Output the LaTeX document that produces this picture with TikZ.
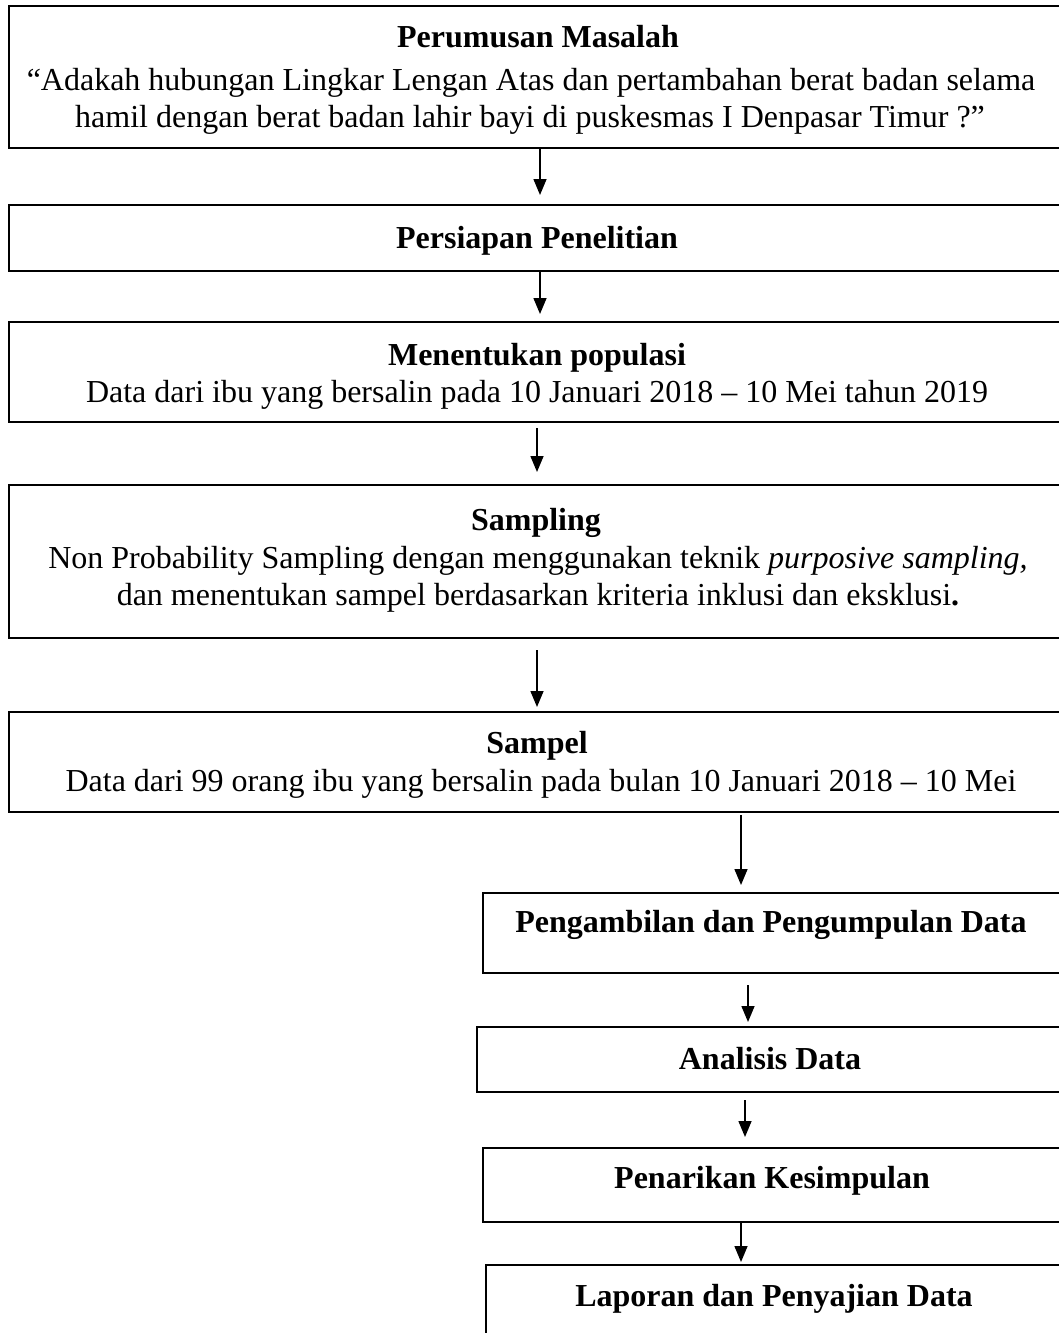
\documentclass[tikz,border=0pt]{standalone}
\usepackage{fontspec}
\setmainfont{Liberation Serif}
\usetikzlibrary{arrows.meta,calc}
\begin{document}
\begin{tikzpicture}[x=1pt,y=-1pt,
  box/.style={draw,line width=1.6pt,inner sep=0pt,outer sep=0pt,anchor=north west},
  txt/.style={anchor=base,inner sep=0pt,font=\fontsize{32}{38}\selectfont},
  ttl/.style={txt,font=\fontsize{32}{38}\selectfont\bfseries},
  arr/.style={line width=1.5pt,-{Triangle[length=16pt,width=13pt]}}]
\useasboundingbox (0,0) rectangle (1059,1333);
\clip (0,0) rectangle (1059,1333);
% boxes
\node[box,minimum width=1057pt,minimum height=142pt] (b1) at (9,6) {};
\node[box,minimum width=1057pt,minimum height=66pt] (b2) at (9,205) {};
\node[box,minimum width=1057pt,minimum height=100pt] (b3) at (9,322) {};
\node[box,minimum width=1057pt,minimum height=153pt] (b4) at (9,485) {};
\node[box,minimum width=1057pt,minimum height=100pt] (b5) at (9,712) {};
\node[box,minimum width=583pt,minimum height=80pt] (b6) at (483,893) {};
\node[box,minimum width=589pt,minimum height=65pt] (b7) at (477,1027) {};
\node[box,minimum width=583pt,minimum height=74pt] (b8) at (483,1148) {};
\node[box,minimum width=580pt,minimum height=120pt] (b9) at (486,1265) {};
% texts
\node[ttl] (t1a) at (538,47) {Perumusan Masalah};
\node[txt] (t1b) at (531,90) {“Adakah hubungan Lingkar Lengan Atas dan pertambahan berat badan selama};
\node[txt] (t1c) at (530,127) {hamil dengan berat badan lahir bayi di puskesmas I Denpasar Timur ?”};
\node[ttl] (t2) at (537,248) {Persiapan Penelitian};
\node[ttl] (t3a) at (537,365) {Menentukan populasi};
\node[txt] (t3b) at (537,402) {Data dari ibu yang bersalin pada 10 Januari 2018 – 10 Mei tahun 2019};
\node[ttl] (t4a) at (536,530) {Sampling};
\node[txt] (t4b) at (538,568) {Non Probability Sampling dengan menggunakan teknik \textit{purposive sampling,}};
\node[txt] (t4c) at (538,605) {dan menentukan sampel berdasarkan kriteria inklusi dan eksklusi\textbf{.}};
\node[ttl] (t5a) at (537,753) {Sampel};
\node[txt] (t5b) at (541,791) {Data dari 99 orang ibu yang bersalin pada bulan 10 Januari 2018 – 10 Mei};
\node[ttl] (t6) at (771,932) {Pengambilan dan Pengumpulan Data};
\node[ttl] (t7) at (770,1069) {Analisis Data};
\node[ttl] (t8) at (772,1188) {Penarikan Kesimpulan};
\node[ttl] (t9) at (774,1306) {Laporan dan Penyajian Data};
% arrows
\draw[arr] ($(b1.south west)+(531,0)$) -- ($(b2.north west)+(531,-10)$);
\draw[arr] ($(b2.south west)+(531,0)$) -- ($(b3.north west)+(531,-8)$);
\draw[arr] ($(b3.south west)+(528,6)$) -- ($(b4.north west)+(528,-13)$);
\draw[arr] ($(b4.south west)+(528,12)$) -- ($(b5.north west)+(528,-5)$);
\draw[arr] ($(b5.south west)+(732,3)$) -- ($(b6.north west)+(258,-8)$);
\draw[arr] ($(b6.south west)+(265,12)$) -- ($(b7.north west)+(271,-5)$);
\draw[arr] ($(b7.south west)+(268,8)$) -- ($(b8.north west)+(262,-11)$);
\draw[arr] ($(b8.south west)+(258,0)$) -- ($(b9.north west)+(255,-3)$);
\end{tikzpicture}
\end{document}
